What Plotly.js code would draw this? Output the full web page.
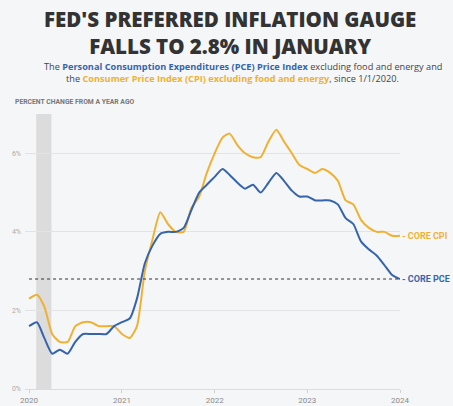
<!DOCTYPE html>
<html>
<head>
<meta charset="utf-8">
<script src="https://cdn.plot.ly/plotly-3.0.1.min.js"></script>
<style>
html,body{margin:0;padding:0;background:#f5f6f8;}
#chart{width:453px;height:406px;}
</style>
</head>
<body>
<div id="chart"></div>
<script>
// Monthly data, Jan 2020 - Jan 2024 (year-over-year % change)
var startYear = 2020;
var coreCPI = [
  2.3, 2.4, 2.1, 1.4, 1.2, 1.2, 1.6, 1.7, 1.7, 1.6, 1.6, 1.6,
  1.4, 1.3, 1.6, 3.0, 3.8, 4.5, 4.2, 4.0, 4.0, 4.6, 4.9, 5.5,
  6.0, 6.4, 6.5, 6.2, 6.0, 5.9, 5.9, 6.3, 6.6, 6.3, 6.0, 5.7,
  5.6, 5.5, 5.6, 5.5, 5.3, 4.8, 4.7, 4.3, 4.1, 4.0, 4.0, 3.9,
  3.9
];
var corePCE = [
  1.6, 1.7, 1.3, 0.9, 1.0, 0.9, 1.2, 1.4, 1.4, 1.4, 1.4, 1.6,
  1.7, 1.8, 2.3, 3.2, 3.65, 3.95, 4.0, 4.0, 4.1, 4.55, 5.0, 5.2,
  5.4, 5.6, 5.45, 5.25, 5.1, 5.2, 5.0, 5.25, 5.5, 5.3, 5.05, 4.9,
  4.9, 4.8, 4.8, 4.8, 4.7, 4.35, 4.2, 3.75, 3.55, 3.4, 3.15, 2.9,
  2.8
];
var yearTicks = ["2020-01-01", "2021-01-01", "2022-01-01", "2023-01-01", "2024-01-01"];
var yearLabels = ["2020", "2021", "2022", "2023", "2024"];
var yTicks = [0, 2, 4, 6];
var yTickLabels = ["0%", "2%", "4%", "6%"];
var latestPCE = 2.8;
var recessionStart = "2020-01-29";
var recessionEnd = "2020-03-29";

var months = [];
for (var i = 0; i < coreCPI.length; i++) {
  var y = startYear + Math.floor(i / 12);
  var m = (i % 12) + 1;
  months.push(y + "-" + (m < 10 ? "0" + m : m) + "-01");
}

var orange = "#f0b132";
var blue = "#3564ad";
var bg = "#f5f6f8";

var traces = [
  {x: months, y: coreCPI, type: "scatter", mode: "lines", name: "CORE CPI",
   line: {color: orange, width: 2, shape: "spline", smoothing: 0.6}, hoverinfo: "skip"},
  {x: months, y: corePCE, type: "scatter", mode: "lines", name: "CORE PCE",
   line: {color: blue, width: 2, shape: "spline", smoothing: 0.6}, hoverinfo: "skip"}
];

var titleFont = "Open Sans, Roboto, sans-serif";
var smallFont = "Roboto, Open Sans, sans-serif";

// helper: page pixel x -> paper fraction (plot area spans 25..400)
function px(x) { return (x - 25) / 375; }
function dy(y) { return 114 - y; }

var layout = {
  width: 453, height: 406,
  margin: {l: 25, r: 53, t: 114, b: 17, pad: 0},
  paper_bgcolor: bg, plot_bgcolor: bg,
  showlegend: false,
  xaxis: {
    type: "date",
    range: ["2019-12-16", "2024-01-01"],
    tickvals: yearTicks, ticktext: yearLabels,
    showgrid: false, zeroline: false,
    showline: true, linecolor: "#dcdcdc", linewidth: 1,
    ticks: "outside", ticklen: 3, tickcolor: "#d0d0d0",
    tickfont: {family: smallFont, size: 8, color: "#8a8a8a"},
    fixedrange: true
  },
  yaxis: {
    range: [0, 7],
    tickvals: yTicks, ticktext: yTickLabels,
    showgrid: true, gridcolor: "#e3e3e3", gridwidth: 1,
    zeroline: false, showline: false,
    ticks: "", ticklabelstandoff: 3,
    tickfont: {family: smallFont, size: 7, color: "#ababab"},
    fixedrange: true
  },
  shapes: [
    {type: "rect", xref: "x", yref: "paper", x0: recessionStart, x1: recessionEnd, y0: 0, y1: 1,
     fillcolor: "#dcdcdc", line: {width: 0}, layer: "below"},
    {type: "line", xref: "x", yref: "y", x0: "2020-01-01", x1: "2024-01-01", y0: latestPCE, y1: latestPCE,
     line: {color: "#333333", width: 1, dash: "dot"}}
  ],
  annotations: [
    {xref: "paper", yref: "paper", x: px(230), y: 1, xanchor: "center", yanchor: "middle",
     yshift: dy(32), showarrow: false,
     text: "FED'S PREFERRED INFLATION GAUGE<br>FALLS TO 2.8% IN JANUARY",
     font: {family: titleFont, size: 20.5, color: "#333333", weight: 800}},
    {xref: "paper", yref: "paper", x: px(243), y: 1, xanchor: "center", yanchor: "middle",
     yshift: dy(66), showarrow: false,
     text: "The <b><span style='color:" + blue + "'>Personal Consumption Expenditures (PCE) Price Index</span></b> excluding food and energy and",
     font: {family: titleFont, size: 9.2, color: "#444444"}},
    {xref: "paper", yref: "paper", x: px(232), y: 1, xanchor: "center", yanchor: "middle",
     yshift: dy(78), showarrow: false,
     text: "the <b><span style='color:" + orange + "'>Consumer Price Index (CPI) excluding food and energy</span></b>, since 1/1/2020.",
     font: {family: titleFont, size: 9.2, color: "#444444"}},
    {xref: "paper", yref: "paper", x: px(13), y: 1, xanchor: "left", yanchor: "middle",
     yshift: dy(102), showarrow: false,
     text: "<b>PERCENT CHANGE FROM A YEAR AGO</b>",
     font: {family: smallFont, size: 6.8, color: "#777777"}},
    {xref: "x", yref: "y", x: "2024-01-01", y: coreCPI[coreCPI.length - 1], xanchor: "left", yanchor: "middle",
     xshift: 0, showarrow: false, text: "<b>- CORE CPI</b>",
     font: {family: smallFont, size: 9, color: orange}},
    {xref: "x", yref: "y", x: "2024-01-01", y: corePCE[corePCE.length - 1], xanchor: "left", yanchor: "middle",
     xshift: 0, showarrow: false, text: "<b>- CORE PCE</b>",
     font: {family: smallFont, size: 9, color: blue}}
  ]
};

Plotly.newPlot("chart", traces, layout, {displayModeBar: false, staticPlot: true});
</script>
</body>
</html>
